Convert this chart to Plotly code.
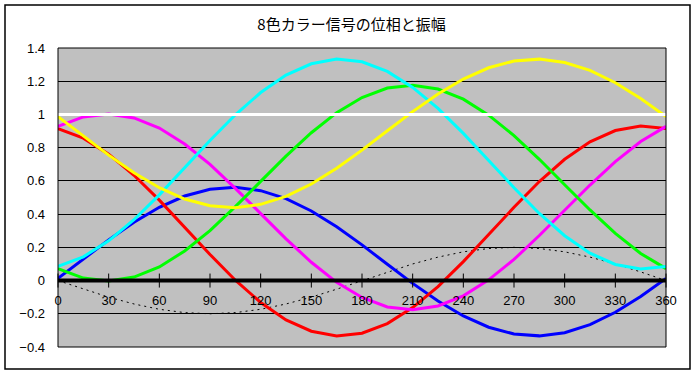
import plotly.graph_objects as go

# Phase (degrees) sampled every 15 degrees
phase = [0, 15, 30, 45, 60, 75, 90, 105, 120, 135, 150, 165, 180,
         195, 210, 225, 240, 255, 270, 285, 300, 315, 330, 345, 360]

white = [1.0] * 25
yellow = [0.987, 0.870, 0.755, 0.649, 0.559, 0.491, 0.450, 0.439, 0.459, 0.507, 0.581, 0.676, 0.785,
          0.902, 1.017, 1.123, 1.213, 1.281, 1.322, 1.333, 1.313, 1.265, 1.191, 1.096, 0.987]
cyan = [0.085, 0.143, 0.239, 0.366, 0.516, 0.679, 0.843, 0.998, 1.132, 1.237, 1.305, 1.333, 1.317,
        1.259, 1.163, 1.036, 0.886, 0.723, 0.559, 0.404, 0.270, 0.165, 0.097, 0.069, 0.085]
green = [0.072, 0.015, -0.002, 0.021, 0.082, 0.178, 0.301, 0.445, 0.597, 0.749, 0.890, 1.011, 1.102,
         1.159, 1.176, 1.153, 1.092, 0.996, 0.873, 0.730, 0.577, 0.425, 0.284, 0.163, 0.072]
magenta = [0.928, 0.985, 1.002, 0.979, 0.918, 0.822, 0.699, 0.555, 0.403, 0.251, 0.110, -0.011, -0.102,
           -0.159, -0.176, -0.153, -0.092, 0.004, 0.127, 0.271, 0.423, 0.575, 0.716, 0.837, 0.928]
red = [0.915, 0.857, 0.761, 0.634, 0.484, 0.321, 0.157, 0.002, -0.132, -0.237, -0.305, -0.333, -0.317,
       -0.259, -0.163, -0.036, 0.114, 0.277, 0.441, 0.596, 0.730, 0.835, 0.903, 0.931, 0.915]
blue = [0.013, 0.130, 0.245, 0.351, 0.441, 0.509, 0.550, 0.561, 0.541, 0.493, 0.419, 0.324, 0.215,
        0.098, -0.017, -0.123, -0.213, -0.281, -0.322, -0.333, -0.314, -0.265, -0.191, -0.096, 0.013]
black = [0.0] * 25
burst = [0.0, -0.052, -0.100, -0.141, -0.173, -0.193, -0.200, -0.193, -0.173, -0.141, -0.100, -0.052, 0.0,
         0.052, 0.100, 0.141, 0.173, 0.193, 0.200, 0.193, 0.173, 0.141, 0.100, 0.052, 0.0]

x_ticks = [0, 30, 60, 90, 120, 150, 180, 210, 240, 270, 300, 330, 360]
y_ticks = [-0.4, -0.2, 0, 0.2, 0.4, 0.6, 0.8, 1.0, 1.2, 1.4]

title_text = "8色カラー信号の位相と振幅"

fig = go.Figure()

fig.add_trace(go.Scatter(x=phase, y=burst, mode="lines",
                         line=dict(color="black", width=1, dash="2px,4px")))
for ys, col in [(blue, "#0000FF"), (red, "#FF0000"), (magenta, "#FF00FF"),
                (green, "#00FF00"), (cyan, "#00FFFF"), (yellow, "#FFFF00")]:
    fig.add_trace(go.Scatter(x=phase, y=ys, mode="lines",
                             line=dict(color=col, width=3)))
fig.add_trace(go.Scatter(x=phase, y=white, mode="lines",
                         line=dict(color="#FFFFFF", width=3)))
fig.add_trace(go.Scatter(x=phase, y=black, mode="lines",
                         line=dict(color="#000000", width=4)))
# cross tick marks on the zero axis
fig.add_trace(go.Scatter(x=x_ticks, y=[0] * len(x_ticks), mode="markers",
                         marker=dict(symbol="line-ns", size=10,
                                     line=dict(color="black", width=1)),
                         cliponaxis=False))

num_font = dict(family="Liberation Sans, Arial, sans-serif", size=13, color="black")

fig.update_layout(
    width=696, height=374,
    margin=dict(l=58, r=30, t=48, b=27),
    paper_bgcolor="white",
    plot_bgcolor="#C0C0C0",
    showlegend=False,
    title=dict(text=title_text, x=0.505, xanchor="center", y=0.935, yanchor="middle",
               font=dict(family="Noto Sans CJK JP, sans-serif", size=15, color="black")),
    xaxis=dict(range=[0, 360], tickvals=x_ticks, ticktext=[str(v) for v in x_ticks],
               showgrid=False, zeroline=False, showline=False,
               anchor="free", position=0.4 / 1.8,
               ticks="", ticklabelstandoff=10,
               tickfont=num_font),
    yaxis=dict(range=[-0.4, 1.4], tickvals=y_ticks,
               showgrid=True, gridcolor="black", gridwidth=1,
               zeroline=False, showline=False, ticks="",
               ticklabelstandoff=12, tickfont=num_font),
    shapes=[
        dict(type="rect", xref="paper", yref="paper", x0=0, x1=1, y0=0, y1=1,
             line=dict(color="black", width=1), fillcolor="rgba(0,0,0,0)", layer="above"),
        dict(type="rect", xref="paper", yref="paper", x0=-53 / 608, x1=632 / 608,
             y0=-22 / 299, y1=342 / 299,
             line=dict(color="black", width=1.5), fillcolor="rgba(0,0,0,0)"),
    ],
)

fig.write_html("out.html", config={"displayModeBar": False},
               post_script="document.body.style.margin='0';document.body.style.padding='0';")
